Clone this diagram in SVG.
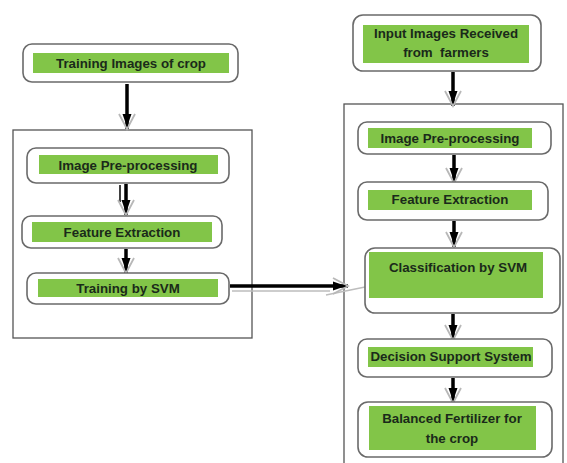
<svg xmlns="http://www.w3.org/2000/svg" width="567" height="463" viewBox="0 0 567 463">
<defs>
<marker id="ah" viewBox="0 0 20 18" refX="18" refY="9" markerWidth="20" markerHeight="18" markerUnits="userSpaceOnUse" orient="auto">
<polyline points="3,1 18,9 3,17" fill="none" stroke="#b8b8b8" stroke-width="1.8"/>
<polygon points="3,4.5 16,9 3,13.5" fill="#000"/>
</marker>
</defs>
<style>
.outer{fill:#fff;stroke:#6a6a6a;stroke-width:1.6}
.green{fill:#82c548}
.box{fill:none;stroke:#555;stroke-width:1.3}
.t{font-family:"Liberation Sans",Arial,sans-serif;font-weight:bold;font-size:13.3px;fill:#1a2a1a;text-anchor:middle}
.c{fill:none;stroke:#000;stroke-width:3.5}
.g{fill:none;stroke:#bdbdbd;stroke-width:1.5}
</style>
<rect width="567" height="463" fill="#fff"/>
<g id="frames">
<rect class="box" x="13" y="130" width="239" height="208"/>
<rect class="box" x="344" y="104" width="219" height="372"/>
</g>
<g id="connectors">
<line class="c" x1="127" y1="84" x2="127" y2="129" marker-end="url(#ah)"/>
<line x1="120" y1="185" x2="120" y2="202" stroke="#000" stroke-width="1.5"/>
<line class="c" x1="126" y1="184" x2="126" y2="215" marker-end="url(#ah)"/>
<line class="c" x1="126" y1="249" x2="126" y2="273" marker-end="url(#ah)"/>
<line class="g" x1="232" y1="291" x2="330" y2="291"/>
<line class="g" x1="326" y1="295" x2="365" y2="287"/>
<line class="c" x1="230" y1="286" x2="348" y2="286" marker-end="url(#ah)"/>
<line class="c" x1="453" y1="72" x2="453" y2="106" marker-end="url(#ah)"/>
<line class="c" x1="454" y1="155" x2="454" y2="183" marker-end="url(#ah)"/>
<line class="c" x1="454" y1="221" x2="454" y2="247" marker-end="url(#ah)"/>
<line class="c" x1="453" y1="314" x2="453" y2="340" marker-end="url(#ah)"/>
<line class="c" x1="453" y1="378" x2="453" y2="403" marker-end="url(#ah)"/>
</g>
<g id="n-training-images">
<rect class="outer" x="23" y="44" width="215" height="38" rx="9"/>
<rect class="green" x="33" y="53" width="196" height="20"/>
<text class="t" x="131" y="68">Training Images of crop</text>
</g>
<g id="n-left-preprocessing">
<rect class="outer" x="27" y="148" width="202" height="35" rx="9"/>
<rect class="green" x="39" y="155" width="179" height="19"/>
<text class="t" x="128" y="170">Image Pre-processing</text>
</g>
<g id="n-left-feature">
<rect class="outer" x="22" y="216" width="200" height="32" rx="9"/>
<rect class="green" x="32" y="222" width="180" height="20"/>
<text class="t" x="122" y="237">Feature Extraction</text>
</g>
<g id="n-training-svm">
<rect class="outer" x="27" y="273" width="202" height="31" rx="9"/>
<rect class="green" x="38" y="279" width="180" height="18"/>
<text class="t" x="128" y="293">Training by SVM</text>
</g>
<g id="n-input-images">
<rect class="outer" x="353" y="15" width="188" height="56" rx="10"/>
<rect class="green" x="363" y="25" width="166" height="38"/>
<text class="t" x="446" y="38">Input Images Received</text>
<text class="t" x="446" y="57" xml:space="preserve">from  farmers</text>
</g>
<g id="n-right-preprocessing">
<rect class="outer" x="358" y="122" width="193" height="32" rx="9"/>
<rect class="green" x="368" y="128" width="164" height="20"/>
<text class="t" x="450" y="143">Image Pre-processing</text>
</g>
<g id="n-right-feature">
<rect class="outer" x="358" y="182" width="190" height="38" rx="9"/>
<rect class="green" x="368" y="190" width="164" height="20"/>
<text class="t" x="450" y="204">Feature Extraction</text>
</g>
<g id="n-classification">
<rect class="outer" x="365" y="248" width="195" height="65" rx="10"/>
<rect class="green" x="369" y="252" width="174" height="46"/>
<text class="t" x="458" y="272">Classification by SVM</text>
</g>
<g id="n-decision">
<rect class="outer" x="358" y="339" width="194" height="38" rx="9"/>
<rect class="green" x="368" y="347" width="165" height="20"/>
<text class="t" x="451" y="361">Decision Support System</text>
</g>
<g id="n-balanced">
<rect class="outer" x="358" y="402" width="194" height="55" rx="10"/>
<rect class="green" x="369" y="406" width="167" height="44"/>
<text class="t" x="452" y="423">Balanced Fertilizer for</text>
<text class="t" x="452" y="443">the crop</text>
</g>
</svg>
